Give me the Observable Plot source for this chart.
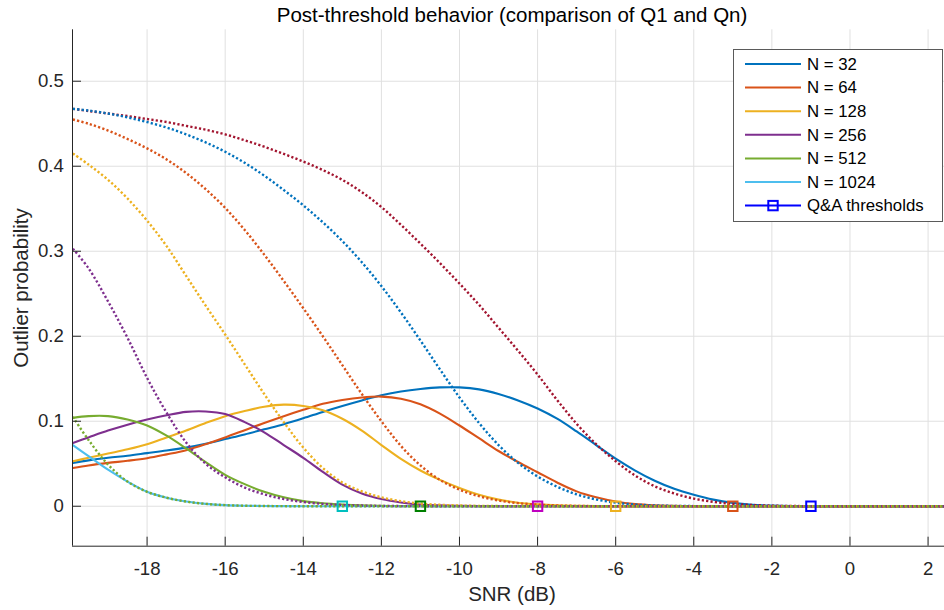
<!DOCTYPE html>
<html>
<head>
<meta charset="utf-8">
<script src="https://cdn.jsdelivr.net/npm/d3@7"></script>
<script src="https://cdn.jsdelivr.net/npm/@observablehq/plot@0.6"></script>
<style>
  html, body { margin: 0; padding: 0; background: #fff; overflow: hidden; }
  #wrap { position: relative; width: 944px; height: 610px; overflow: hidden; background: #fff; }
  #chart svg { max-width: none !important; }
  #legend { position: absolute; left: 733px; top: 49px; }
</style>
</head>
<body>
<div id="wrap"><div id="chart"></div><div id="legend"></div></div>
<script>
// ---------- data ----------
const titleText = "Post-threshold behavior (comparison of Q1 and Qn)";
const xLabelText = "SNR (dB)";
const yLabelText = "Outlier probability";

const snr = [-19.9, -19.5, -19, -18.5, -18, -17.5, -17, -16.5, -16, -15.5, -15, -14.5, -14, -13.5, -13, -12.5, -12, -11.5, -11, -10.5, -10, -9.5, -9, -8.5, -8, -7.5, -7, -6.5, -6, -5.5, -5, -4.5, -4, -3.5, -3, -2.5, -2, -1.5, -1, -0.5, 0, 0.5, 1, 1.5, 2, 2.5, 3];

// Q1 (solid)
const q1_32   = [0.051,0.054,0.057,0.0595,0.0625,0.0655,0.069,0.0735,0.079,0.0845,0.0905,0.0965,0.1035,0.111,0.118,0.1245,0.1305,0.135,0.138,0.1398,0.1398,0.1375,0.132,0.1245,0.115,0.103,0.088,0.072,0.056,0.042,0.030,0.0205,0.0135,0.0078,0.004,0.0018,0.0008,0.0003,0.0001,0,0,0,0,0,0,0,0];
const q1_64   = [0.045,0.048,0.051,0.0535,0.0565,0.061,0.066,0.073,0.081,0.0895,0.098,0.106,0.1135,0.1205,0.125,0.128,0.129,0.1265,0.12,0.109,0.095,0.08,0.065,0.052,0.04,0.028,0.0175,0.0105,0.0055,0.0025,0.0011,0.0005,0.0002,0.0001,0,0,0,0,0,0,0,0,0,0,0,0,0];
const q1_128  = [0.053,0.057,0.062,0.067,0.073,0.081,0.089,0.098,0.106,0.112,0.117,0.1195,0.118,0.113,0.103,0.089,0.072,0.0557,0.042,0.031,0.0215,0.0135,0.0078,0.0042,0.0022,0.001,0.0005,0.0002,0.0001,0,0,0,0,0,0,0,0,0,0,0,0,0,0,0,0,0,0];
const q1_256  = [0.0745,0.081,0.089,0.096,0.102,0.107,0.111,0.1115,0.1085,0.099,0.087,0.072,0.057,0.0405,0.0255,0.015,0.0085,0.0045,0.002,0.001,0.0005,0.0002,0.0001,0,0,0,0,0,0,0,0,0,0,0,0,0,0,0,0,0,0,0,0,0,0,0,0];
const q1_512  = [0.104,0.106,0.106,0.102,0.095,0.083,0.068,0.052,0.037,0.026,0.017,0.0105,0.006,0.0035,0.002,0.001,0.0005,0.0002,0.0001,0,0,0,0,0,0,0,0,0,0,0,0,0,0,0,0,0,0,0,0,0,0,0,0,0,0,0,0];
const q1_1024 = [0.072,0.059,0.043,0.029,0.017,0.010,0.0055,0.0028,0.0013,0.0006,0.0003,0.0001,0,0,0,0,0,0,0,0,0,0,0,0,0,0,0,0,0,0,0,0,0,0,0,0,0,0,0,0,0,0,0,0,0,0,0];

// Qn (dotted)
const qn_32   = [0.4675,0.465,0.462,0.459,0.4555,0.452,0.4475,0.443,0.4375,0.4305,0.423,0.4145,0.4055,0.3955,0.384,0.3695,0.352,0.331,0.309,0.286,0.262,0.237,0.21,0.183,0.155,0.125,0.097,0.073,0.053,0.036,0.0235,0.015,0.009,0.0052,0.0028,0.0015,0.0007,0.0003,0.0001,0,0,0,0,0,0,0,0];
const qn_64   = [0.4675,0.4655,0.462,0.4575,0.452,0.4455,0.4375,0.428,0.417,0.404,0.389,0.372,0.354,0.334,0.312,0.287,0.259,0.228,0.195,0.161,0.128,0.098,0.072,0.051,0.035,0.023,0.014,0.008,0.0042,0.002,0.0009,0.0004,0.0002,0.0001,0,0,0,0,0,0,0,0,0,0,0,0,0];
const qn_128  = [0.455,0.45,0.442,0.432,0.421,0.408,0.392,0.373,0.351,0.325,0.296,0.265,0.233,0.2,0.166,0.132,0.1,0.071,0.048,0.031,0.0195,0.0118,0.0068,0.0037,0.0019,0.0009,0.0004,0.0001,0,0,0,0,0,0,0,0,0,0,0,0,0,0,0,0,0,0,0];
const qn_256  = [0.415,0.402,0.384,0.362,0.336,0.306,0.271,0.236,0.202,0.167,0.132,0.099,0.069,0.045,0.028,0.0175,0.0105,0.006,0.0032,0.0017,0.0009,0.0004,0.0002,0.0001,0,0,0,0,0,0,0,0,0,0,0,0,0,0,0,0,0,0,0,0,0,0,0];
const qn_512  = [0.303,0.28,0.241,0.198,0.151,0.11,0.075,0.05,0.034,0.022,0.014,0.0085,0.005,0.0028,0.0015,0.0008,0.0004,0.0002,0.0001,0,0,0,0,0,0,0,0,0,0,0,0,0,0,0,0,0,0,0,0,0,0,0,0,0,0,0,0];
const qn_1024 = [0.105,0.078,0.049,0.029,0.017,0.010,0.0055,0.0028,0.0013,0.0006,0.0003,0.0001,0,0,0,0,0,0,0,0,0,0,0,0,0,0,0,0,0,0,0,0,0,0,0,0,0,0,0,0,0,0,0,0,0,0,0];

const seriesN = [32, 64, 128, 256, 512, 1024];
const q1Colors = ["#0072BD", "#D95319", "#EDB120", "#7E2F8E", "#77AC30", "#4DBEEE"];
const qnColors = ["#A2142F", "#0072BD", "#D95319", "#EDB120", "#7E2F8E", "#77AC30"];

// Q&A thresholds
const thrSNR = [-1, -3, -6, -8, -11, -13];
const thrP = [0, 0, 0, 0, 0, 0];
const thrColors = ["#0000FF", "#D95319", "#EDB120", "#BF00BF", "#008000", "#00BFBF"];

const xTicks = [-18, -16, -14, -12, -10, -8, -6, -4, -2, 0, 2];
const yTicks = [0, 0.1, 0.2, 0.3, 0.4, 0.5];
const xDomain = [-19.91, 2.6];
const yDomain = [-0.047, 0.5605];

// ---------- build ----------
const q1 = [q1_32, q1_64, q1_128, q1_256, q1_512, q1_1024];
const qn = [qn_32, qn_64, qn_128, qn_256, qn_512, qn_1024];
const toRows = arr => arr.map((p, i) => ({snr: snr[i], p}));
const thrRows = thrSNR.map((s, i) => ({snr: s, p: thrP[i], c: thrColors[i]}));

const W = 951, H = 610, mL = 72, mR = 0, mT = 29.3, mB = 64.3;
const frameW = W - mL - mR, frameH = H - mT - mB;
const axisColor = "#262626";
const font = "'Liberation Sans', Arial, Helvetica, sans-serif";

const marks = [
  Plot.gridX(xTicks, {stroke: "#e0e0e0", strokeOpacity: 1}),
  Plot.gridY(yTicks, {stroke: "#e0e0e0", strokeOpacity: 1}),
];
q1.forEach((arr, k) => marks.push(Plot.line(toRows(arr), {x: "snr", y: "p", stroke: q1Colors[k], strokeWidth: 2.1, curve: "catmull-rom", clip: true})));
qn.forEach((arr, k) => marks.push(Plot.line(toRows(arr), {x: "snr", y: "p", stroke: qnColors[k], strokeWidth: 2.4, strokeDasharray: "2.2,2.2", strokeLinecap: "butt", curve: "catmull-rom", clip: true})));
marks.push(Plot.dot(thrRows, {x: "snr", y: "p", symbol: "square", r: 5.3, stroke: "c", strokeWidth: 2, fill: "none"}));
marks.push(
  Plot.ruleX([xDomain[0]], {stroke: axisColor, strokeWidth: 1}),
  Plot.ruleY([yDomain[0]], {stroke: axisColor, strokeWidth: 1}),
  Plot.ruleX(xTicks, {stroke: axisColor, insetTop: frameH - 9}),
  Plot.ruleY(yTicks, {stroke: axisColor, insetRight: frameW - 9}),
  Plot.axisX(xTicks, {tickSize: 0, tickPadding: 16, tickFormat: d => String(d), label: null, fontSize: 18.6, fill: axisColor}),
  Plot.axisY(yTicks, {tickSize: 0, tickPadding: 8.7, tickFormat: d => String(d), label: null, fontSize: 18.6, fill: axisColor}),
  Plot.text([titleText], {frameAnchor: "top", dy: -14.5, lineAnchor: "middle", textAnchor: "middle", fontSize: 20.5, fill: "#000", text: d => d}),
  Plot.text([xLabelText], {frameAnchor: "bottom", dy: 48.5, lineAnchor: "middle", textAnchor: "middle", fontSize: 20.5, fill: axisColor, text: d => d}),
  Plot.text([yLabelText], {frameAnchor: "left", dx: -51, rotate: -90, lineAnchor: "middle", textAnchor: "middle", fontSize: 20.5, fill: axisColor, text: d => d})
);

const chart = Plot.plot({
  width: W, height: H,
  marginLeft: mL, marginRight: mR, marginTop: mT, marginBottom: mB,
  style: {fontFamily: font, fontSize: "18.6px", color: axisColor, background: "white", overflow: "visible", maxWidth: "none"},
  x: {domain: xDomain, label: null},
  y: {domain: yDomain, label: null},
  color: {type: "identity"},
  marks
});
chart.style.maxWidth = "none";
document.getElementById("chart").appendChild(chart);

// ---------- legend ----------
const legendLabels = seriesN.map(n => `N = ${n}`).concat(["Q&A thresholds"]);
const legendColors = q1Colors.concat(["#0000FF"]);
const LW = 210, LH = 173, rowH = 23.6, row0 = 15;
const lg = d3.select("#legend").append("svg")
  .attr("width", LW).attr("height", LH)
  .style("font-family", font).style("display", "block");
lg.append("rect").attr("x", 0.5).attr("y", 0.5).attr("width", LW - 1).attr("height", LH - 1)
  .attr("fill", "white").attr("stroke", "#5a5a5a").attr("stroke-width", 1);
legendLabels.forEach((lab, i) => {
  const y = row0 + i * rowH;
  lg.append("line").attr("x1", 12).attr("x2", 68).attr("y1", y).attr("y2", y)
    .attr("stroke", legendColors[i]).attr("stroke-width", 2);
  if (i === legendLabels.length - 1) {
    lg.append("rect").attr("x", 40 - 4.7).attr("y", y - 4.7).attr("width", 9.4).attr("height", 9.4)
      .attr("fill", "none").attr("stroke", "#0000FF").attr("stroke-width", 2);
  }
  lg.append("text").attr("x", 74).attr("y", y).attr("dy", "0.35em")
    .attr("font-size", 16.8).attr("fill", "#000").text(lab);
});
</script>
</body>
</html>
